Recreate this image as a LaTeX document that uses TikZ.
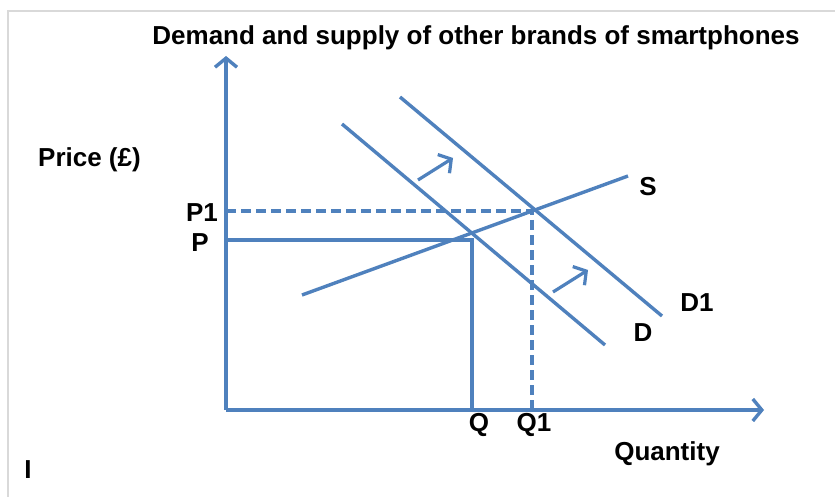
\documentclass[tikz,border=0pt]{standalone}
\usepackage{fontspec}
\setmainfont{Liberation Sans}
\usetikzlibrary{arrows.meta, positioning}
\definecolor{curveblue}{RGB}{79,129,189}

\begin{document}
\begin{tikzpicture}[
        x = 1pt, y = -1pt,
        >= {Straight Barb[length = 9pt, width = 22pt]},
        curve/.style = {draw = curveblue, line width = 3.4pt},
        guide/.style = {curve, dash pattern = on 10pt off 5pt},
        shift arrow/.style = {curve, line width = 3.2pt, ->},
        lbl/.style = {font = \fontsize{26}{28}\selectfont\bfseries, inner sep = 0pt}
    ]

    \useasboundingbox[fill = white] (0,0) rectangle (835,497);
    \draw[gray!30, line width = 2pt] (8,497) -- (8,11) -- (835,11);

    % axes
    \coordinate (origin) at (226,410);
    \coordinate (ytop)   at (226,56);
    \coordinate (xend)   at (764,410);
    \draw[curve, ->] (origin) -- (ytop);
    \draw[curve, ->] (origin) -- (xend);

    % curves
    \coordinate (s0)  at (302,295);
    \coordinate (s1)  at (628,176);
    \coordinate (d0)  at (342,124);
    \coordinate (d1)  at (605,345);
    \coordinate (dd0) at (400,97);
    \coordinate (dd1) at (662,316);
    \draw[curve] (s0)  -- (s1);
    \draw[curve] (d0)  -- (d1);
    \draw[curve] (dd0) -- (dd1);

    % equilibrium guides
    \coordinate (eq)  at (472,240);
    \coordinate (eq1) at (532,211);
    \draw[curve] (origin |- eq) -- (eq) -- (eq |- origin);
    \draw[guide] (origin |- eq1) -- (eq1) -- (eq1 |- origin);

    % shift arrows
    \coordinate (a0) at (418,180);
    \coordinate (a1) at (453,158);
    \coordinate (b0) at (553,292);
    \coordinate (b1) at (588,270);
    \draw[shift arrow] (a0) -- (a1);
    \draw[shift arrow] (b0) -- (b1);

    % labels
    \node[lbl] (title) at (476,38) {Demand and supply of other brands of smartphones};
    \node[lbl, anchor = west] (price) at (38,160) {Price (£)};
    \node[lbl] (p1lbl) at (202,213) {P1};
    \node[lbl] (plbl)  at (200,243) {P};
    \node[lbl] (qlbl)  at (479,425) {Q};
    \node[lbl] (q1lbl) at (534,425) {Q1};
    \node[lbl] (slbl)  at (648,187) {S};
    \node[lbl] (d1lbl) at (697,303) {D1};
    \node[lbl] (dlbl)  at (643,333) {D};
    \node[lbl] (qty)   at (667,454) {Quantity};
    \node[lbl] (mark)  at (28,470) {I};

\end{tikzpicture}
\end{document}
